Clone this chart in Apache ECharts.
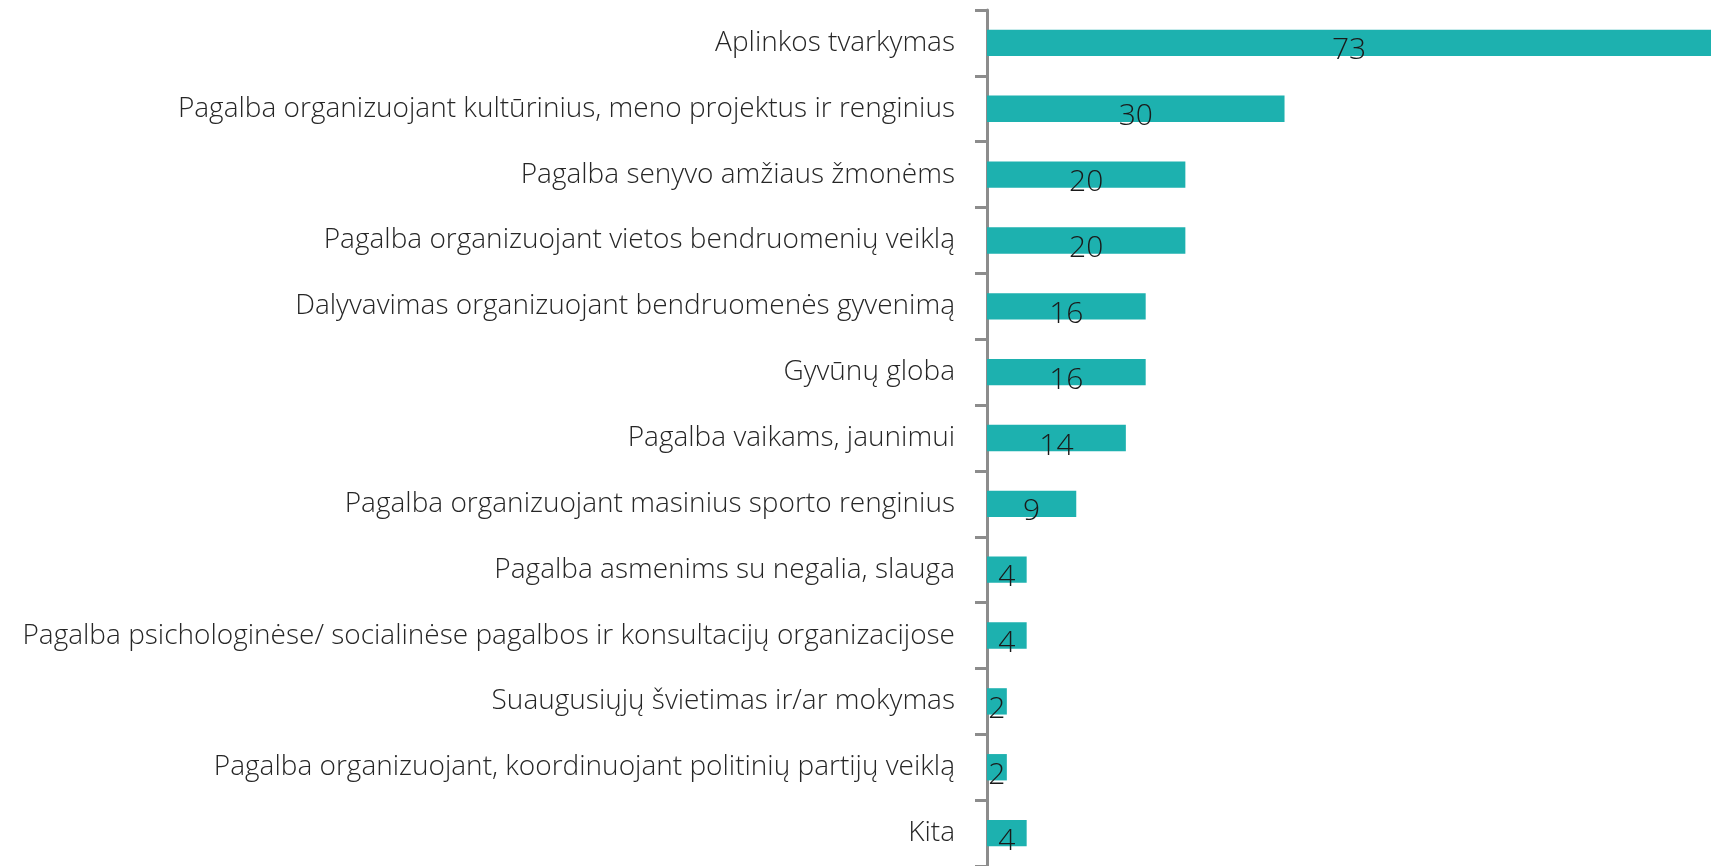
<!DOCTYPE html>
<html>
<head>
<meta charset="utf-8">
<script src="https://cdn.jsdelivr.net/npm/echarts@6/dist/echarts.min.js"></script>
<style>
  html, body { margin: 0; padding: 0; background: #fff; }
  #chart { width: 1711px; height: 866px; }
</style>
</head>
<body>
<div id="chart"></div>
<script>
// veiklos sritys (iš viršaus į apačią)
const categories = [
  'Aplinkos tvarkymas',
  'Pagalba organizuojant kultūrinius, meno projektus ir renginius',
  'Pagalba senyvo amžiaus žmonėms',
  'Pagalba organizuojant vietos bendruomenių veiklą',
  'Dalyvavimas organizuojant bendruomenės gyvenimą',
  'Gyvūnų globa',
  'Pagalba vaikams, jaunimui',
  'Pagalba organizuojant masinius sporto renginius',
  'Pagalba asmenims su negalia, slauga',
  'Pagalba psichologinėse/ socialinėse pagalbos ir konsultacijų organizacijose',
  'Suaugusiųjų švietimas ir/ar mokymas',
  'Pagalba organizuojant, koordinuojant politinių partijų veiklą',
  'Kita'
]
const values = [73, 30, 20, 20, 16, 16, 14, 9, 4, 4, 2, 2, 4]

const chart = echarts.init(document.getElementById('chart'))
chart.setOption({
  animation: false,
  // the plot runs a little past the right and bottom edges, as in the source
  grid: {
    top: 10,
    left: 987,
    width: 730,
    height: 861,
    containLabel: false
  },
  xAxis: {
    type: 'value',
    min: 0,
    max: 73,
    show: false
  },
  yAxis: {
    type: 'category',
    inverse: true,
    data: categories,
    axisLine: {
      show: true,
      lineStyle: { color: '#8c8c8c', width: 3 }
    },
    axisTick: {
      show: true,
      length: 12,
      lineStyle: { color: '#8c8c8c', width: 3 }
    },
    axisLabel: {
      margin: 32,
      padding: [8, 0, 0, 0],
      color: '#262626',
      fontFamily: 'Open Sans',
      fontWeight: 300,
      fontSize: 28
    }
  },
  series: [{
    type: 'bar',
    data: values,
    barWidth: '40%',
    itemStyle: { color: '#1db1af' },
    label: {
      show: true,
      position: 'inside',
      offset: [0, 8],
      color: '#1a1a1a',
      fontFamily: 'Open Sans',
      fontWeight: 300,
      fontSize: 30
    }
  }]
})
</script>
</body>
</html>
